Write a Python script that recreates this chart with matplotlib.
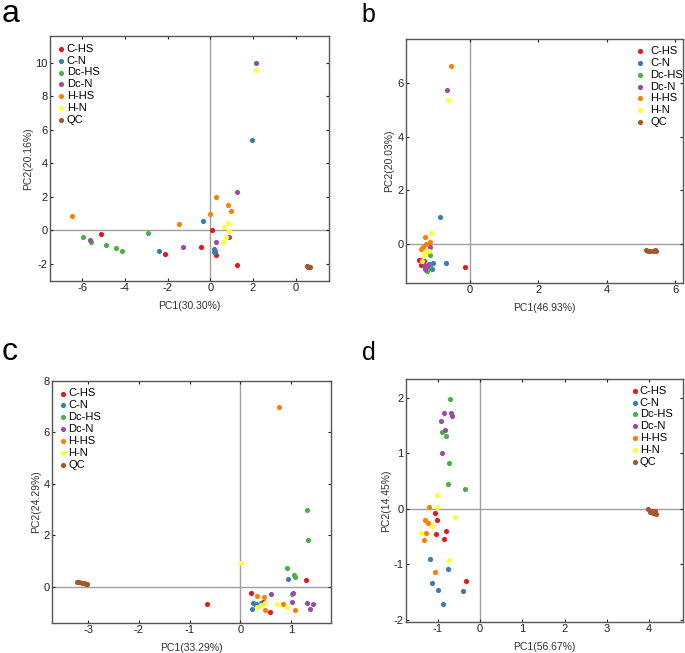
import numpy as np
import matplotlib
matplotlib.use("Agg")
import matplotlib.pyplot as plt

plt.rcParams['font.family'] = ['Liberation Sans', 'DejaVu Sans']
plt.rcParams['axes.unicode_minus'] = False

groups = ["C-HS", "C-N", "Dc-HS", "Dc-N", "H-HS", "H-N", "QC"]
colors = ["#e41a1c", "#377eb8", "#4daf4a", "#984ea3", "#ff7f00", "#ffff33", "#a65628"]

# panel a
a_x = {
    "C-HS": [-5.10, -2.14, -0.41, 0.09, 0.28, 1.26],
    "C-N": [-2.38, -0.35, 0.19, 0.19, 0.20, 1.95],
    "Dc-HS": [-5.95, -5.56, -4.90, -4.39, -4.14, -2.93],
    "Dc-N": [-5.61, -1.29, 0.27, 0.90, 1.23, 2.16],
    "H-HS": [-6.46, -1.46, -0.03, 0.25, 0.85, 0.99],
    "H-N": [0.65, 0.85, 0.88, 0.72, 0.58, 2.14],
    "QC": [4.52, 4.56, 4.60, 4.64, 4.68, 4.58],
}
a_y = {
    "C-HS": [-0.24, -1.39, -1.01, 0.0, -1.49, -2.04],
    "C-N": [-1.23, 0.57, -1.13, -1.27, -1.20, 5.41],
    "Dc-HS": [-0.38, -0.67, -0.87, -1.07, -1.25, -0.18],
    "Dc-N": [-0.57, -1.01, -0.67, -0.40, 2.28, 10.0],
    "H-HS": [0.89, 0.40, 1.01, 2.02, 1.52, 1.17],
    "H-N": [0.18, 0.42, -0.04, -0.36, -0.67, 9.58],
    "QC": [-2.12, -2.15, -2.18, -2.20, -2.19, -2.16],
}

# panel b
b_x = {
    "C-HS": [-0.14, -1.45, -1.50, -1.42, -1.35, -1.30],
    "C-N": [-0.86, -0.69, -1.08, -1.11, -1.15, -1.20],
    "Dc-HS": [-1.15, -1.28, -1.22, -1.32, -1.20, -1.25],
    "Dc-N": [-0.66, -1.17, -1.35, -1.28, -1.22, -1.30],
    "H-HS": [-0.55, -1.31, -1.16, -1.27, -1.37, -1.44],
    "H-N": [-0.64, -1.13, -1.30, -1.20, -1.40, -1.35],
    "QC": [5.16, 5.22, 5.28, 5.34, 5.40, 5.45],
}
b_y = {
    "C-HS": [-0.84, -0.60, -0.58, -0.78, -0.62, -0.80],
    "C-N": [1.02, -0.70, -0.71, -0.93, -0.85, -0.75],
    "Dc-HS": [-0.40, -0.95, -0.90, -0.88, -0.82, -1.00],
    "Dc-N": [5.73, -0.12, -0.80, -0.85, -0.78, -0.92],
    "H-HS": [6.65, 0.26, 0.08, 0.0, -0.10, -0.18],
    "H-N": [5.38, 0.43, -0.30, -0.25, -0.62, -0.40],
    "QC": [-0.23, -0.24, -0.25, -0.24, -0.23, -0.25],
}

# panel c
c_x = {
    "C-HS": [-0.66, 0.21, 0.45, 0.59, 1.30, 0.31],
    "C-N": [0.22, 0.25, 0.31, 0.40, 0.94, 0.35],
    "Dc-HS": [1.32, 1.33, 0.92, 1.06, 1.08, 1.02],
    "Dc-N": [0.61, 1.04, 1.02, 1.31, 1.36, 1.43],
    "H-HS": [0.75, 0.33, 0.47, 0.49, 0.83, 1.08],
    "H-N": [0.01, 0.33, 0.40, 0.49, 0.71, 0.92],
    "QC": [-3.21, -3.17, -3.13, -3.09, -3.05, -3.02],
}
c_y = {
    "C-HS": [-0.65, -0.22, -0.57, -0.98, 0.25, -0.70],
    "C-N": [-0.87, -0.61, -0.66, -0.61, 0.31, -0.76],
    "Dc-HS": [2.99, 1.81, 0.75, 0.48, 0.38, -0.28],
    "Dc-N": [-0.27, -0.25, -0.60, -0.63, -0.87, -0.67],
    "H-HS": [6.99, -0.36, -0.38, -0.89, -0.67, -0.89],
    "H-N": [0.91, -0.79, -0.70, -0.61, -0.67, -0.79],
    "QC": [0.18, 0.17, 0.16, 0.14, 0.12, 0.10],
}

# panel d
d_x = {
    "C-HS": [-1.06, -1.02, -0.81, -1.05, -0.86, -0.33],
    "C-N": [-1.19, -0.76, -1.13, -0.99, -0.39, -0.87],
    "Dc-HS": [-0.72, -0.89, -0.80, -0.73, -0.76, -0.36],
    "Dc-N": [-0.84, -0.91, -0.68, -0.65, -0.83, -0.89],
    "H-HS": [-1.21, -1.31, -1.22, -1.28, -1.33, -1.06],
    "H-N": [-1.01, -1.02, -0.58, -1.14, -1.40, -0.73],
    "QC": [3.97, 4.02, 4.07, 4.10, 4.14, 4.17],
}
d_y = {
    "C-HS": [-0.07, -0.21, -0.40, -0.46, -0.55, -1.30],
    "C-N": [-0.91, -1.08, -1.33, -1.46, -1.49, -1.72],
    "Dc-HS": [1.98, 1.38, 1.32, 0.82, 0.44, 0.35],
    "Dc-N": [1.73, 1.59, 1.73, 1.68, 1.42, 1.01],
    "H-HS": [0.03, -0.21, -0.25, -0.43, -0.57, -1.14],
    "H-N": [0.25, 0.03, -0.14, -0.31, -0.44, -0.92],
    "QC": [-0.01, -0.05, -0.03, -0.07, -0.04, -0.10],
}

panels = [
    ("a", a_x, a_y, "PC1(30.30%)", "PC2(20.16%)", (-7.5, 5.55), (-3.0, 11.6),
     [-6, -4, -2, 0, 2, 4], ["-6", "-4", "-2", "0", "2", "0"], [-2, 0, 2, 4, 6, 8, 10]),
    ("b", b_x, b_y, "PC1(46.93%)", "PC2(20.03%)", (-1.88, 6.23), (-1.44, 7.66),
     [0, 2, 4, 6], None, [0, 2, 4, 6]),
    ("c", c_x, c_y, "PC1(33.29%)", "PC2(24.29%)", (-3.71, 1.78), (-1.4, 8.0),
     [-3, -2, -1, 0, 1], None, [0, 2, 4, 6, 8]),
    ("d", d_x, d_y, "PC1(56.67%)", "PC2(14.45%)", (-1.76, 4.8), (-2.04, 2.34),
     [-1, 0, 1, 2, 3, 4], None, [-2, -1, 0, 1, 2]),
]

boxes = [
    [0.073, 0.570, 0.407, 0.375],
    [0.592, 0.567, 0.405, 0.374],
    [0.076, 0.046, 0.407, 0.371],
    [0.592, 0.0475, 0.405, 0.372],
]
# letter: x, baseline y, size
letters = [(0.002, 0.966, 23), (0.528, 0.966, 18), (0.002, 0.449, 23), (0.528, 0.449, 18)]
# legend: loc, anchor, handletextpad, borderpad
legends = [
    ("upper left", (0.0, 1.0), 0.2, 0.4),
    ("upper right", (1.0, 0.97), 0.6, 0.0),
    ("upper left", (0.0, 1.0), 0.15, 0.4),
    ("upper right", (0.99, 1.005), 0.1, 0.4),
]

fig = plt.figure(figsize=(6.85, 6.53), dpi=100)

for (letter, px, py, xl, yl, xlim, ylim, xt, xtl, yt), box, lt, lg in zip(panels, boxes, letters, legends):
    ax = fig.add_axes(box)
    ax.axhline(0, color="#a0a0a0", lw=1, zorder=1)
    ax.axvline(0, color="#a0a0a0", lw=1, zorder=1)
    for g, c in zip(groups, colors):
        ax.scatter(px[g], py[g], s=14, color=c, label=g, zorder=3, linewidths=0)
    ax.set_xlim(*xlim)
    ax.set_ylim(*ylim)
    ax.set_xticks(xt)
    if xtl is not None:
        ax.set_xticklabels(xtl)
    ax.set_yticks(yt)
    ax.tick_params(direction="out", length=2.5, width=0.8, labelsize=8,
                   colors="#222222", pad=1.5)
    ax.tick_params(top=True, right=True, direction="in")
    for s in ax.spines.values():
        s.set_color("#555555")
        s.set_linewidth(1.0)
    ax.set_xlabel(xl, fontsize=7.5, color="#333333", labelpad=6)
    ax.set_ylabel(yl, fontsize=7.5, color="#333333", labelpad=2)
    ax.legend(loc=lg[0], bbox_to_anchor=lg[1], frameon=False, fontsize=8,
              handlelength=0.6, handletextpad=lg[2], labelspacing=0.17,
              borderaxespad=0.0 if letter == "b" else 0.3, borderpad=lg[3],
              scatterpoints=1)
    fig.text(lt[0], lt[1], letter, fontsize=lt[2], va="baseline", ha="left")

fig.savefig("out.png", dpi=100)
